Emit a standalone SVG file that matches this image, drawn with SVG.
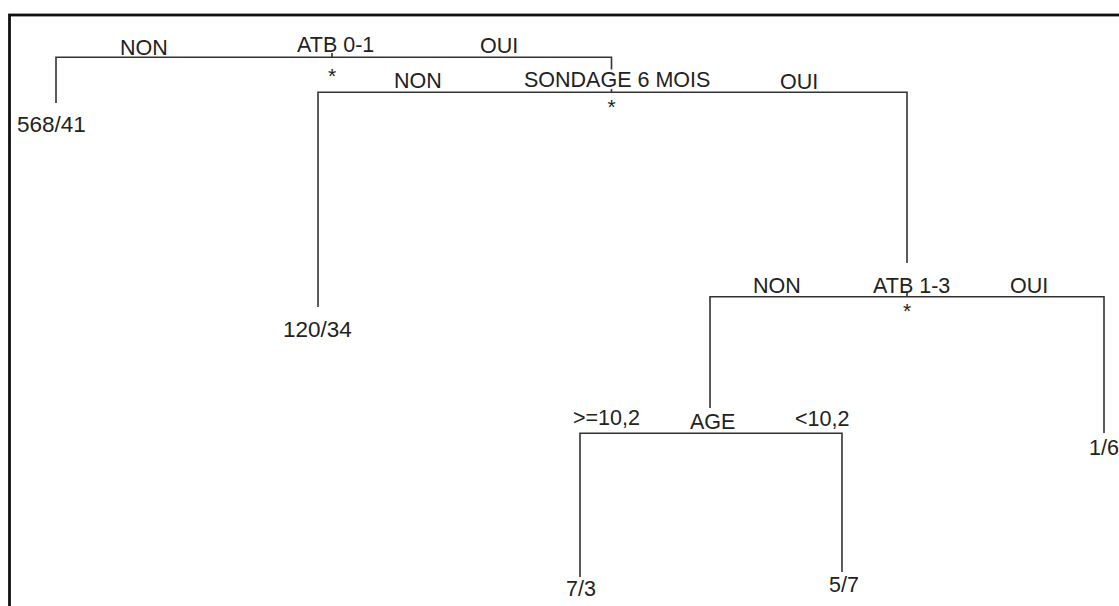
<svg xmlns="http://www.w3.org/2000/svg" width="1119" height="606" viewBox="0 0 1119 606">
<style>
  .lbl { font-family: "Liberation Sans", Arial, sans-serif; font-size: 21.5px; fill: #222; }
  .num { font-family: "Liberation Sans", Arial, sans-serif; font-size: 22.5px; fill: #222; }
  .star { font-family: "Liberation Sans", Arial, sans-serif; font-size: 21px; fill: #222; text-anchor: middle; }
  .edge { fill: none; stroke: #333; stroke-width: 1.6; }
</style>
<rect x="0" y="0" width="1119" height="606" fill="#fff"/>
<rect x="9.5" y="15" width="1300" height="800" fill="none" stroke="#111" stroke-width="2.8"/>

<g id="connectors">
  <path class="edge" d="M56,103 V57.3 H611.5 V69.5"/>
  <path class="edge" d="M332,53 V57.3"/>
  <path class="edge" d="M611.5,89 V92.3"/>
  <path class="edge" d="M318,307 V92.3 H907 V263"/>
  <path class="edge" d="M907,291.5 V296.7"/>
  <path class="edge" d="M710,408 V296.7 H1104 V433"/>
  <path class="edge" d="M580,577 V433.3 H842 V572"/>
</g>

<g id="node-atb01">
  <text class="lbl" x="297" y="52">ATB 0-1</text>
  <text class="star" x="332" y="82.5">*</text>
  <text class="lbl" x="120" y="55">NON</text>
  <text class="lbl" x="480" y="52.5">OUI</text>
</g>

<g id="leaf-568-41">
  <text class="num" x="17" y="132">568/41</text>
</g>

<g id="node-sondage">
  <text class="lbl" x="524" y="87">SONDAGE 6 MOIS</text>
  <text class="star" x="611.5" y="113.5">*</text>
  <text class="lbl" x="394" y="88.3">NON</text>
  <text class="lbl" x="780" y="89.3">OUI</text>
</g>

<g id="leaf-120-34">
  <text class="num" x="283" y="336.7">120/34</text>
</g>

<g id="node-atb13">
  <text class="lbl" x="873" y="293">ATB 1-3</text>
  <text class="star" x="907" y="318">*</text>
  <text class="lbl" x="753" y="293">NON</text>
  <text class="lbl" x="1010" y="293">OUI</text>
</g>

<g id="leaf-1-6">
  <text class="lbl" x="1089" y="455">1/6</text>
</g>

<g id="node-age">
  <text class="lbl" x="690" y="429">AGE</text>
  <text class="lbl" x="573" y="425">&gt;=10,2</text>
  <text class="lbl" x="795" y="425.7">&lt;10,2</text>
</g>

<g id="leaf-7-3">
  <text class="lbl" x="566" y="596">7/3</text>
</g>

<g id="leaf-5-7">
  <text class="lbl" x="829" y="592">5/7</text>
</g>
</svg>
